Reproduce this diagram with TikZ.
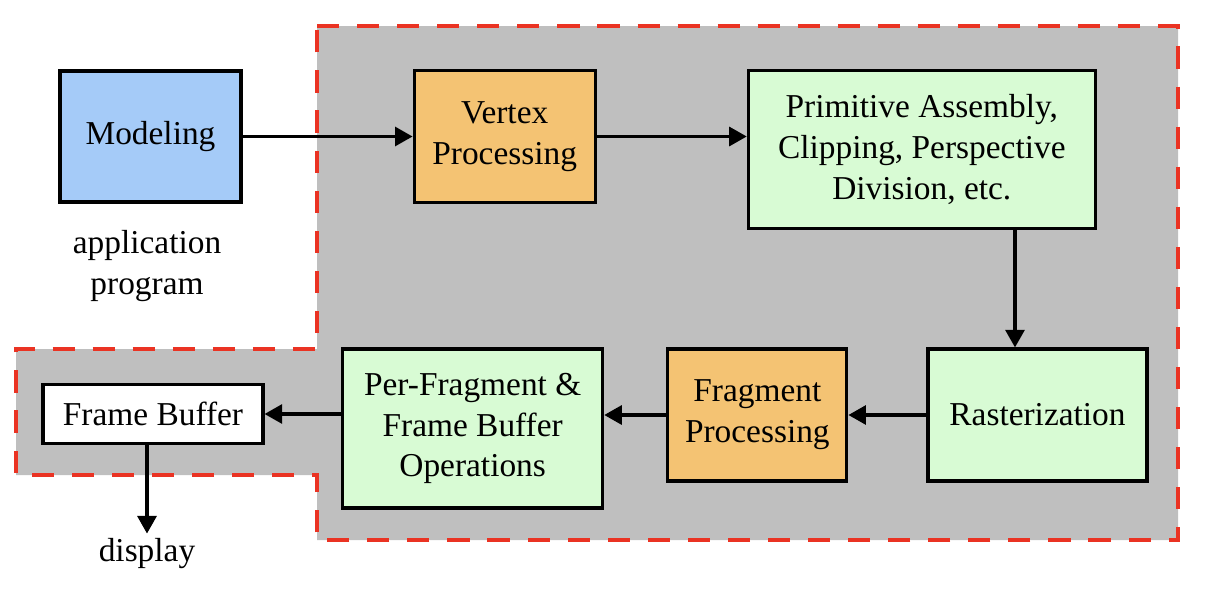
\documentclass[tikz,border=0pt]{standalone}
\usepackage{fontspec}
\setmainfont{Liberation Serif}
\usetikzlibrary{positioning,arrows.meta}
\definecolor{appblue}{HTML}{A5CBF8}
\definecolor{procorange}{HTML}{F4C373}
\definecolor{fixgreen}{HTML}{D8FBD4}
\definecolor{pipegray}{HTML}{BFBFBF}
\definecolor{dashred}{HTML}{EA3323}

\begin{document}
\begin{tikzpicture}[
	box/.style = {draw, line width=0.9pt, align=center, inner sep=2pt,
		font=\fontsize{9.5}{11.6}\selectfont},
	lbl/.style = {align=center, inner sep=0pt,
		font=\fontsize{9.5}{11.6}\selectfont},
	flow/.style = {-{Triangle[length=5pt,width=5.4pt]}, line width=0.9pt},
	region/.style = {fill=pipegray, draw=dashred, line width=1.15pt,
		dash pattern=on 6.3pt off 5.1pt}]
\useasboundingbox (0,0) rectangle (12.14,5.88);
% pipeline region
\draw[region] (3.17,5.62) -| (11.78,0.48) -| (3.17,1.13) -| (0.16,2.39)
	-| (3.17,2.39) -- cycle;
% upper row
\node[box, fill=appblue, minimum width=1.81cm, minimum height=1.31cm]
	(model) at (1.505,4.515) {Modeling};
\node[lbl, below=0.26cm of model, xshift=-0.035cm] (app) {application\\program};
\node[box, fill=procorange, minimum width=1.81cm, minimum height=1.32cm,
	right=1.70cm of model] (vertex) {Vertex\\Processing};
\node[box, fill=fixgreen, minimum width=3.47cm, minimum height=1.58cm,
	right=1.50cm of vertex.north east, anchor=north west]
	(prim) {Primitive Assembly,\\Clipping, Perspective\\Division, etc.};
% lower row
\node[box, fill=fixgreen, minimum width=2.19cm, minimum height=1.32cm]
	(rast) at (10.375,1.73) {Rasterization};
\node[box, fill=procorange, minimum width=1.79cm, minimum height=1.32cm,
	left=0.78cm of rast] (frag) {Fragment\\Processing};
\node[box, fill=fixgreen, minimum width=2.6cm, minimum height=1.59cm,
	left=0.62cm of frag.north west, anchor=north east]
	(perfrag) {Per-Fragment \&\\Frame Buffer\\Operations};
\node[box, fill=white, minimum width=2.2cm, minimum height=0.59cm]
	(fb) at (1.53,1.74) {Frame Buffer};
\node[lbl, outer sep=1.5pt] (disp) at (1.47,0.34) {display};
\coordinate (drop) at ([xshift=-0.225cm]rast.north);

\draw[flow] (model) -- (vertex);
\draw[flow] (vertex) -- (vertex -| prim.west);
\draw[flow] (prim.south -| drop) -- (drop);
\draw[flow] (rast) -- (frag);
\draw[flow] (frag) -- (frag -| perfrag.east);
\draw[flow] (perfrag.west |- fb) -- (fb);
\draw[flow] (fb.south -| disp) -- (disp);
\end{tikzpicture}
\end{document}
